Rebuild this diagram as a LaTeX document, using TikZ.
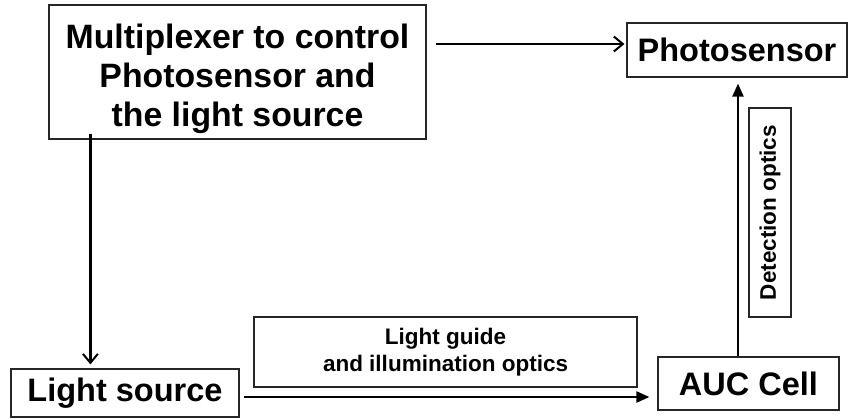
\documentclass[tikz,border=0pt]{standalone}
\usepackage{fontspec}
\setmainfont{Liberation Sans}
\usepackage{tikz}
\usetikzlibrary{calc,arrows.meta,positioning}

\begin{document}
\begin{tikzpicture}[x=1pt,y=-1pt,
    main box/.style={draw=black!85,line width=1.2pt,inner sep=0pt,align=center,
      font=\bfseries\fontsize{32.5}{41}\selectfont},
    small box/.style={draw=black!85,line width=1.2pt,inner sep=0pt,align=center,
      font=\bfseries\fontsize{22.5}{27}\selectfont},
    open arrow/.style={line width=2.2pt,-{Straight Barb[length=9pt,width=15pt,line width=2pt]}},
    full arrow/.style={line width=2.2pt,-{Triangle[length=13pt,width=11pt]}}]
    \useasboundingbox (0,0) rectangle (848,418);

    \node[main box,font=\bfseries\fontsize{33.8}{39}\selectfont,
      minimum width=377pt,minimum height=134pt] (mux) at (237.5,72)
      {\rule{0pt}{39pt}Multiplexer to control\\Photosensor and\\the light source};
    \node[main box,minimum width=220pt,minimum height=54pt] (photo) at (737,50) {Photosensor};
    \node[main box,minimum width=228pt,minimum height=48pt] (light) at (125,393) {Light source};
    \node[main box,minimum width=181pt,minimum height=53pt] (auc) at (748.5,383.5) {AUC Cell};
    \node[small box,minimum width=383pt,minimum height=70pt] (guide) at (445.5,352)
      {Light guide\\and illumination optics};
    \node[small box,rotate=90,minimum width=209pt,minimum height=42pt] (det) at (770,212.5)
      {Detection optics};

    \draw[open arrow] ($(mux.east |- photo.west)+(9,-6)$) -- ($(photo.west)+(-2,-6)$);
    \draw[open arrow] ($(mux.south west)+(42,-6)$) -- ($(light.north west)+(80,-4)$);
    \draw[full arrow] ($(light.east)+(4,4)$) -- ($(auc.west)+(-8,13.5)$);
    \draw[full arrow] ($(auc.north)+(-10.5,0)$) -- ($(photo.south)+(1,6)$);
\end{tikzpicture}
\end{document}
